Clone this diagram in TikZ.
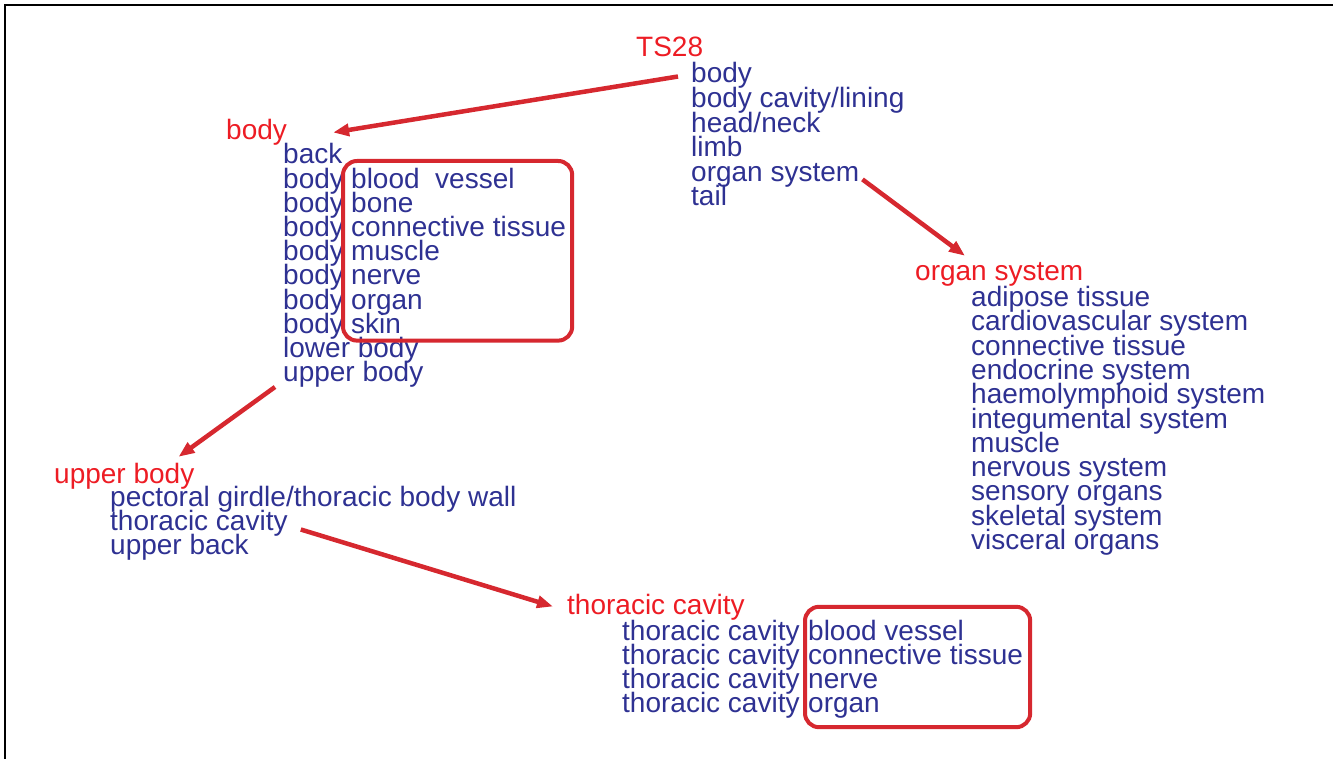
\documentclass[tikz,border=0pt]{standalone}
\usepackage{fontspec}
\setmainfont{Liberation Sans}
\usetikzlibrary{calc,arrows.meta}
\definecolor{itemblue}{RGB}{46,49,146}
\definecolor{headred}{RGB}{237,28,36}
\definecolor{linkred}{RGB}{214,40,47}
\tikzset{
  item/.style={anchor=base west, inner sep=0pt, text=itemblue,
    font=\fontsize{28}{24}\selectfont, text height=18pt, text depth=5pt},
  head/.style={item, text=headred},
  link/.style={draw=linkred, line width=4.5pt, -{Triangle[length=16pt,width=12pt]}},
  redbox/.style={draw=linkred, line width=4pt, rounded corners=14pt}
}

\begin{document}
\begin{tikzpicture}[x=1pt,y=-1pt]
\useasboundingbox (0,0) rectangle (1333,759);
\draw[line width=1.5pt] (5,759) -- (5,5) -- (1333,5);

% top level
\node[head] (ts) at (636,57) {TS28};
\foreach \t [count=\i] in {body,{body cavity/lining},{head/neck},limb,organ system,tail}
  \node[item] (tl\i) at (691,{83+24.6*(\i-1)}) {\t};

% body
\node[head] (hb) at (226,140) {body};
\foreach \t [count=\i] in {back,body,body,body,body,body,body,body,lower body,upper body}
  \node[item] (ba\i) at (283,{164+24.2*(\i-1)}) {\t};
\foreach \t [count=\i from 2] in {blood~~vessel,bone,connective tissue,muscle,nerve,organ,skin}
  \node[item] (bb\i) at (351,{164+24.2*(\i-1)}) {\t};
\draw[redbox] ($(bb2.north west)+(-8pt,9pt)$) rectangle ($(bb8.south -| bb4.east)+(6pt,-2pt)$);

% organ system
\node[head] (hos) at (915,281) {organ system};
\foreach \t [count=\i] in {adipose tissue,cardiovascular system,connective tissue,endocrine system,
    haemolymphoid system,integumental system,muscle,nervous system,sensory organs,skeletal system,visceral organs}
  \node[item] (os\i) at (971,{306.5+24.3*(\i-1)}) {\t};

% upper body
\node[head] (hub) at (54,483) {upper body};
\foreach \t [count=\i] in {{pectoral girdle/thoracic body wall},thoracic cavity,upper back}
  \node[item] (ub\i) at (110,{506+24*(\i-1)}) {\t};

% thoracic cavity
\node[head] (htc) at (567,614) {thoracic cavity};
\foreach \t [count=\i] in {blood vessel,connective tissue,nerve,organ}{
  \node[item] (tca\i) at (622,{640+24*(\i-1)}) {thoracic cavity};
  \node[item] (tcb\i) at (808,{640+24*(\i-1)}) {\t};
}
\draw[redbox] ($(tcb1.north west)+(-3pt,15pt)$) rectangle ($(tcb4.south -| tcb2.east)+(7pt,-10pt)$);

% links
\draw[link] ([xshift=-13pt]tl1.west) -- ([xshift=46pt,yshift=1pt]hb.east);
\draw[link] ([xshift=3pt,yshift=2pt]tl5.base east) -- ([xshift=50pt,yshift=7pt]hos.north west);
\draw[link] ([xshift=-8pt]ba10.south west) -- ([xshift=-16pt,yshift=8pt]hub.north east);
\draw[link] ([xshift=13pt,yshift=-6pt]ub2.east) -- ([xshift=-14pt,yshift=1pt]htc.west);
\end{tikzpicture}
\end{document}
